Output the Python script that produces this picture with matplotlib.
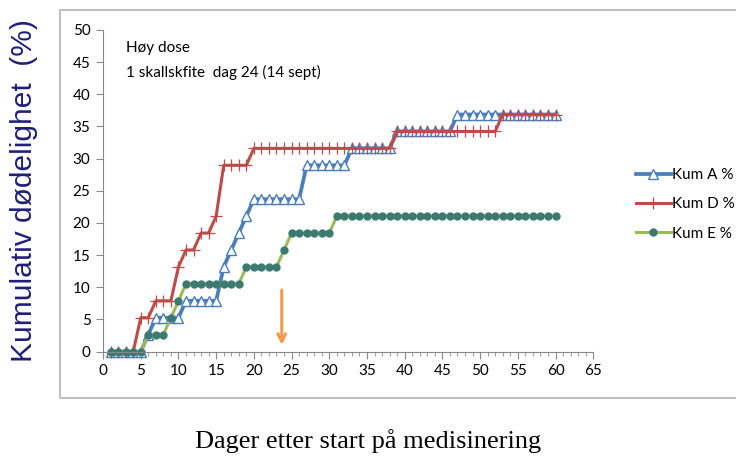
import matplotlib.pyplot as plt
from matplotlib.ticker import MultipleLocator
from matplotlib.patches import Rectangle
import numpy as np

# days since start of medication, cumulative mortality (%) per tank
dager = np.arange(1, 61)

kum_a = ([0.0] * 5 + [2.63] + [5.26] * 4 + [7.89] * 5 +
         [13.16, 15.79, 18.42, 21.05] + [23.68] * 7 + [28.95] * 6 +
         [31.58] * 6 + [34.21] * 8 + [36.84] * 14)
kum_d = ([0.0] * 4 + [5.26] * 2 + [7.89] * 3 + [13.16] + [15.79] * 2 +
         [18.42] * 2 + [21.05] + [28.95] * 4 + [31.58] * 19 +
         [34.21] * 14 + [36.84] * 8)
kum_e = ([0.0] * 5 + [2.63] * 3 + [5.26, 7.89] + [10.53] * 8 +
         [13.16] * 5 + [15.79] + [18.42] * 6 + [21.05] * 30)

serier = ['Kum A %', 'Kum D %', 'Kum E %']
pil_dag = 23.7

plt.rcParams['font.family'] = ['Lato', 'DejaVu Sans']

fig = plt.figure(figsize=(7.36, 4.59), dpi=100)
ax = fig.add_axes([0.14, 0.234, 0.666, 0.701])

# light frame around the chart area
fig.patches.append(Rectangle((60 / 736, 1 - 398 / 459), 1.0, 388 / 459,
                             transform=fig.transFigure, fill=False,
                             edgecolor='#c0c0c0', linewidth=1.5))

ax.plot(dager, kum_a, color='#4a7ebb', lw=2.7, marker='^', ms=7,
        mfc='white', mec='#4a7ebb', mew=1.0, label=serier[0], clip_on=False)
ax.plot(dager, kum_d, color='#be4b48', lw=2.2, marker='+', ms=9,
        mec='#be4b48', mew=0.9, label=serier[1], clip_on=False)
ax.plot(dager, kum_e, color='#9bbb59', lw=2.2, marker='o', ms=5,
        mfc='#3c7a70', mec='#3c7a70', label=serier[2], clip_on=False)

ax.annotate('', xy=(pil_dag, 0.6), xytext=(pil_dag, 10),
            arrowprops=dict(arrowstyle='->', color='#f59a4a', lw=2.2,
                            mutation_scale=14))

ax.text(3, 46.5, 'Høy dose', fontsize=11)
ax.text(3, 42.6, '1 skallskfite  dag 24 (14 sept)', fontsize=11)

ax.set_xlim(0, 65)
ax.set_ylim(0, 50)
ax.xaxis.set_major_locator(MultipleLocator(5))
ax.xaxis.set_minor_locator(MultipleLocator(1))
ax.yaxis.set_major_locator(MultipleLocator(5))
ax.tick_params(axis='both', which='major', length=5, color='#888888',
               labelsize=11, pad=4)
ax.tick_params(axis='x', which='minor', length=3, color='#888888')
for side in ['top', 'right']:
    ax.spines[side].set_visible(False)
for side in ['left', 'bottom']:
    ax.spines[side].set_color('#888888')

leg = fig.legend(loc='center left', bbox_to_anchor=(0.845, 0.555),
                 frameon=False, fontsize=11, handlelength=2.3,
                 handletextpad=0.1, labelspacing=1.0)

fig.text(0.032, 0.585, 'Kumulativ dødelighet  (%)', rotation=90,
         ha='center', va='center', fontsize=21.5, color='#1f1f7a',
         family=['Liberation Sans', 'DejaVu Sans'])
fig.text(0.5, 0.04, 'Dager etter start på medisinering', ha='center',
         va='center', fontsize=19, family=['Liberation Serif', 'DejaVu Serif'])

fig.savefig('out.png', dpi=100)
